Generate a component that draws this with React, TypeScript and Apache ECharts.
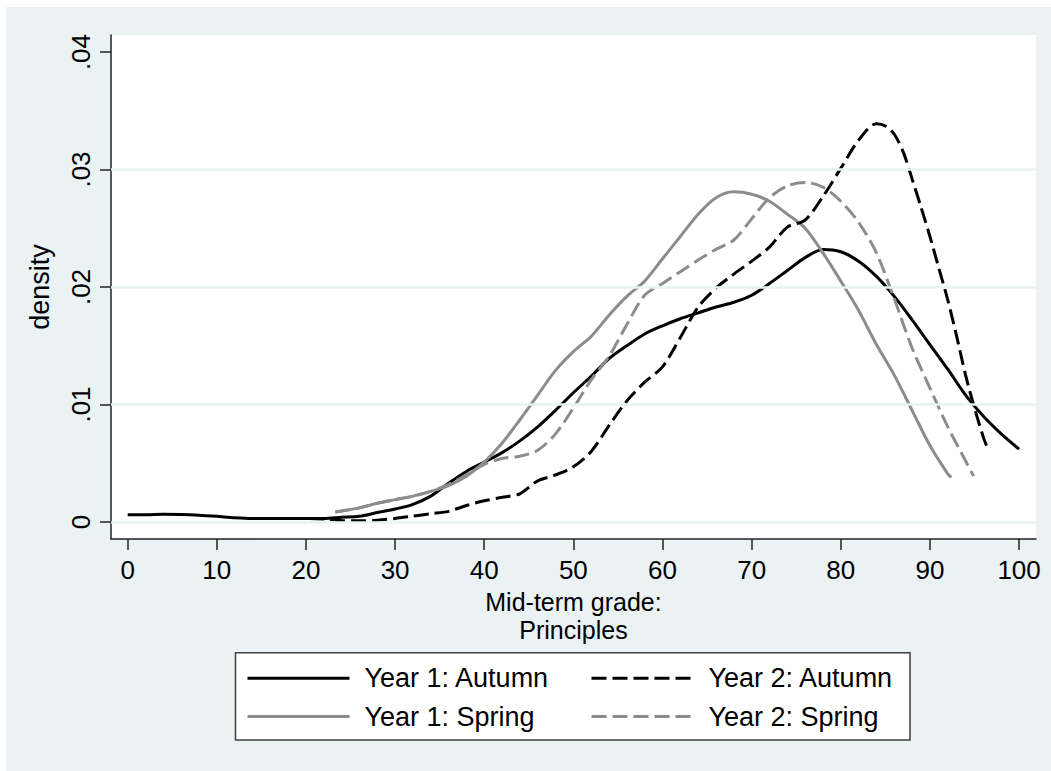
import React, { useEffect, useRef } from "react";
import * as echarts from "echarts";

const FONT = "'Liberation Sans', Arial, sans-serif";
const BLACK = "#000000";
const GRAY = "#8c8c8c";
const BG = "#eaf2f3";

const X_TICKS = [0, 10, 20, 30, 40, 50, 60, 70, 80, 90, 100];
const Y_TICKS = [0, 0.01, 0.02, 0.03, 0.04];
const GRID_VALUES = [0, 0.01, 0.02, 0.03];

const Y1_AUTUMN_X = [0, 2, 4, 6, 8, 10, 12, 14, 16, 18, 20, 22, 24, 26, 28, 30, 32, 34, 36, 38, 40, 42, 44, 46, 48, 50, 52, 54, 56, 58, 60, 62, 64, 66, 68, 70, 72, 74, 76, 78, 80, 82, 84, 86, 88, 90, 92, 94, 96, 98, 100];
const Y1_AUTUMN_Y = [0.00062, 0.00062, 0.00066, 0.00064, 0.00058, 0.00048, 0.00036, 0.0003, 0.0003, 0.0003, 0.0003, 0.0003, 0.0004, 0.00048, 0.0008, 0.0011, 0.0015, 0.0022, 0.0033, 0.0043, 0.0051, 0.0059, 0.0069, 0.0081, 0.0095, 0.011, 0.0124, 0.0139, 0.015, 0.016, 0.0167, 0.0173, 0.0178, 0.0183, 0.0187, 0.0193, 0.0203, 0.0214, 0.0225, 0.0232, 0.023, 0.0222, 0.0209, 0.0192, 0.0172, 0.0151, 0.013, 0.0108, 0.009, 0.0075, 0.0062];

const Y1_SPRING_X = [23.3, 26, 28, 30, 32, 34, 36, 38, 40, 42, 44, 46, 48, 50, 52, 54, 56, 58, 60, 62, 64, 66, 68, 70, 72, 74, 76, 78, 80, 82, 84, 86, 88, 90, 92, 92.4];
const Y1_SPRING_Y = [0.00085, 0.0012, 0.0016, 0.0019, 0.0022, 0.0026, 0.0031, 0.0039, 0.0051, 0.0067, 0.0087, 0.0108, 0.0129, 0.0145, 0.0158, 0.0176, 0.0192, 0.0205, 0.0224, 0.0243, 0.0262, 0.0276, 0.0281, 0.0279, 0.0273, 0.0262, 0.025, 0.0229, 0.0205, 0.018, 0.0151, 0.0125, 0.0095, 0.0065, 0.0041, 0.0038];

const Y2_AUTUMN_X = [18, 20, 22, 24, 26, 28, 30, 32, 34, 36, 38, 40, 42, 44, 46, 48, 50, 52, 54, 56, 58, 60, 62, 64, 66, 68, 70, 72, 74, 76, 78, 80, 82, 84, 85, 86, 87, 88, 89, 90, 91, 92, 93, 94, 95, 96, 96.4];
const Y2_AUTUMN_Y = [0.0003, 0.0003, 0.00025, 0.00012, 0.0001, 0.00015, 0.0003, 0.0005, 0.0007, 0.0009, 0.0014, 0.0018, 0.0021, 0.0024, 0.0035, 0.004, 0.0047, 0.006, 0.0082, 0.0103, 0.0119, 0.0132, 0.0157, 0.0183, 0.0199, 0.0211, 0.0222, 0.0234, 0.0251, 0.0257, 0.0277, 0.0301, 0.0325, 0.0339, 0.0337, 0.033, 0.0315, 0.0292, 0.0268, 0.0243, 0.0216, 0.0189, 0.0158, 0.0125, 0.0097, 0.0072, 0.0064];

const Y2_SPRING_X = [23.3, 26, 28, 30, 32, 34, 36, 38, 40, 42, 44, 46, 48, 50, 52, 54, 56, 58, 60, 62, 64, 66, 68, 70, 72, 74, 76, 78, 80, 82, 84, 86, 88, 90, 92, 94, 94.9];
const Y2_SPRING_Y = [0.00085, 0.0012, 0.0016, 0.0019, 0.0022, 0.0026, 0.0032, 0.004, 0.0049, 0.0054, 0.0056, 0.0061, 0.0075, 0.0097, 0.0121, 0.0141, 0.0168, 0.0193, 0.0203, 0.0213, 0.0223, 0.0232, 0.024, 0.0258, 0.0276, 0.0286, 0.0289, 0.0285, 0.0273, 0.0255, 0.0229, 0.019, 0.0148, 0.0114, 0.0081, 0.0052, 0.0039];

const zip = (xs: number[], ys: number[]) => xs.map((x, i) => [x, ys[i]]);

const DASH = [15, 6];

export default function App() {
  const ref = useRef<HTMLDivElement>(null);
  useEffect(() => {
    if (!ref.current) return;
    const chart = echarts.init(ref.current, undefined, { renderer: "svg" });
    const mkSeries = (name: string, xs: number[], ys: number[], color: string, dashed: boolean) => ({
      name,
      type: "line",
      data: zip(xs, ys),
      showSymbol: false,
      symbol: "none",
      smooth: 0.3,
      z: 3,
      lineStyle: { color, width: 3, type: dashed ? DASH : "solid", cap: "butt" },
      itemStyle: { color },
    });
    const legendCommon = {
      orient: "vertical",
      top: 664.7,
      padding: 0,
      itemWidth: 102,
      itemHeight: 26,
      itemGap: 11.3,
      selectedMode: false,
      itemStyle: { color: "rgba(0,0,0,0)", borderColor: "rgba(0,0,0,0)", borderWidth: 0, opacity: 0 },
      lineStyle: { width: 3 },
      textStyle: { fontFamily: FONT, fontSize: 27, color: BLACK, padding: [0, 0, 0, 10] },
    };
    chart.setOption({
      animation: false,
      backgroundColor: BG,
      textStyle: { fontFamily: FONT },
      grid: {
        left: 111,
        right: 15,
        top: 35,
        bottom: 232,
        show: true,
        backgroundColor: "#ffffff",
        borderWidth: 0,
      },
      graphic: [
        { type: "rect", shape: { x: 0, y: 0, width: 1051, height: 7 }, style: { fill: "#ffffff" }, silent: true },
        { type: "rect", shape: { x: 0, y: 0, width: 6, height: 771 }, style: { fill: "#ffffff" }, silent: true },
        {
          type: "rect",
          shape: { x: 235.5, y: 652.7, width: 674.5, height: 87.3 },
          style: { fill: "#ffffff", stroke: "#404040", lineWidth: 1.5 },
          silent: true,
          z: 0,
        },
      ],
      legend: [
        { ...legendCommon, left: 246, data: ["Year 1: Autumn", "Year 1: Spring"] },
        { ...legendCommon, left: 590, data: ["Year 2: Autumn", "Year 2: Spring"] },
      ],
      xAxis: {
        type: "value",
        min: -1.87,
        max: 101.9,
        name: "Mid-term grade:\nPrinciples",
        nameLocation: "middle",
        nameGap: 43,
        nameTextStyle: { fontFamily: FONT, fontSize: 25, color: BLACK, lineHeight: 28, verticalAlign: "top" },
        axisLine: { show: true, onZero: false, lineStyle: { color: "#222", width: 1.5 } },
        axisTick: { show: true, length: 11, customValues: X_TICKS, lineStyle: { color: "#222", width: 1.5 } },
        axisLabel: { customValues: X_TICKS, fontFamily: FONT, fontSize: 26, color: BLACK, margin: 18 },
        splitLine: { show: false },
      },
      yAxis: {
        type: "value",
        min: -0.00145,
        max: 0.04145,
        name: "density",
        nameLocation: "middle",
        nameGap: 58,
        nameRotate: 90,
        nameTextStyle: { fontFamily: FONT, fontSize: 27, color: BLACK },
        axisLine: { show: true, onZero: false, lineStyle: { color: "#222", width: 1.5 } },
        axisTick: { show: true, length: 11, customValues: Y_TICKS, lineStyle: { color: "#222", width: 1.5 } },
        axisLabel: {
          customValues: Y_TICKS,
          rotate: 90,
          fontFamily: FONT,
          fontSize: 26,
          color: BLACK,
          margin: 17,
          formatter: (v: number) => (Math.abs(v) < 1e-9 ? "0" : "." + String(Math.round(v * 100)).padStart(2, "0")),
        },
        splitLine: { show: false },
      },
      series: [
        {
          name: "gridlines",
          type: "line",
          data: [],
          z: 1,
          silent: true,
          markLine: {
            silent: true,
            symbol: "none",
            label: { show: false },
            lineStyle: { color: BG, width: 2.5, type: "solid" },
            data: GRID_VALUES.map((v) => ({ yAxis: v })),
          },
        },
        mkSeries("Year 1: Autumn", Y1_AUTUMN_X, Y1_AUTUMN_Y, BLACK, false),
        mkSeries("Year 1: Spring", Y1_SPRING_X, Y1_SPRING_Y, GRAY, false),
        mkSeries("Year 2: Autumn", Y2_AUTUMN_X, Y2_AUTUMN_Y, BLACK, true),
        mkSeries("Year 2: Spring", Y2_SPRING_X, Y2_SPRING_Y, GRAY, true),
      ],
    });
    return () => chart.dispose();
  }, []);
  return (
    <div
      ref={ref}
      style={{ position: "fixed", left: 0, top: 0, width: 1051, height: 771 }}
    />
  );
}
